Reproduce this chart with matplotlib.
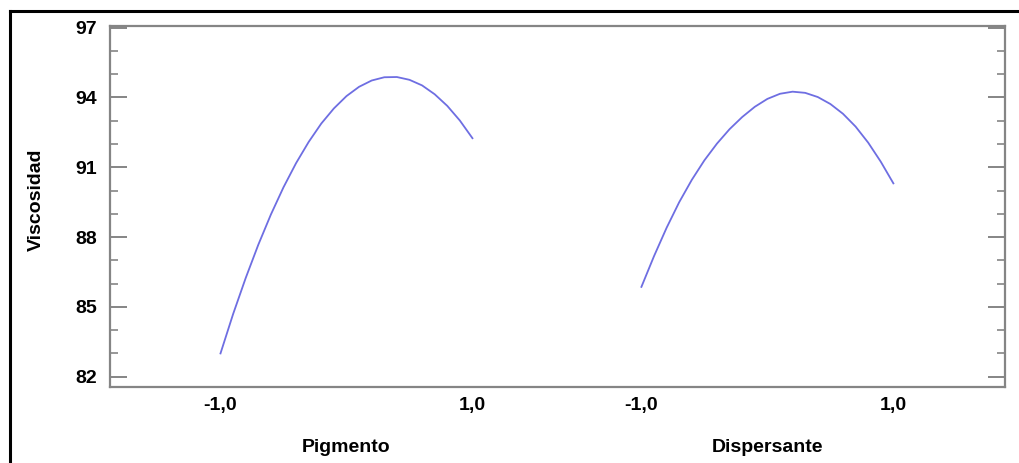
import matplotlib
matplotlib.use("Agg")
import matplotlib.pyplot as plt
from matplotlib.ticker import MultipleLocator, FixedLocator
from matplotlib.lines import Line2D

# ---- data ----
levels = [-1.0, -0.9, -0.8, -0.7, -0.6, -0.5, -0.4, -0.3, -0.2, -0.1, 0.0,
          0.1, 0.2, 0.3, 0.4, 0.5, 0.6, 0.7, 0.8, 0.9, 1.0]
pigmento = [83.00, 84.69, 86.24, 87.67, 88.97, 90.14, 91.18, 92.09, 92.88, 93.53, 94.06,
            94.46, 94.73, 94.87, 94.88, 94.76, 94.52, 94.14, 93.64, 93.01, 92.25]
dispersante = [85.86, 87.18, 88.40, 89.50, 90.46, 91.30, 92.02, 92.64, 93.16, 93.60, 93.94,
               94.16, 94.25, 94.20, 94.02, 93.72, 93.30, 92.75, 92.06, 91.24, 90.31]
factors = ["Pigmento", "Dispersante"]
tick_labels = ["-1,0", "1,0"]
y_ticks = [82, 85, 88, 91, 94, 97]
y_label = "Viscosidad"

plt.rcParams['font.family'] = ['Liberation Sans', 'DejaVu Sans']

W, H = 1019, 463
fig = plt.figure(figsize=(W / 100, H / 100), dpi=100)

# outer black frame (left & top visible)
fig.add_artist(Line2D([9.5 / W, 9.5 / W], [0, 1 - 11 / H], transform=fig.transFigure,
                      color='black', lw=2.2, solid_capstyle='projecting'))
fig.add_artist(Line2D([9.5 / W, 1], [1 - 11 / H, 1 - 11 / H], transform=fig.transFigure,
                      color='black', lw=2.2, solid_capstyle='projecting'))

ax_l, ax_r, ax_t, ax_b = 110, 1005, 26, 387
ax = fig.add_axes([ax_l / W, 1 - ax_b / H, (ax_r - ax_l) / W, (ax_b - ax_t) / H])

offset = 3.341  # horizontal offset of the second factor panel
line_color = '#6e6ee2'
ax.plot(levels, pigmento, color=line_color, lw=1.3)
ax.plot([x + offset for x in levels], dispersante, color=line_color, lw=1.3)

ax.set_xlim(-1.877, 5.227)
ax.set_ylim(81.557, 97.073)

ax.yaxis.set_major_locator(FixedLocator(y_ticks))
ax.yaxis.set_minor_locator(MultipleLocator(1))
ax.set_yticklabels([str(v) for v in y_ticks])

xt = [-1, 1, -1 + offset, 1 + offset]
ax.set_xticks(xt)
ax.set_xticklabels(tick_labels * 2)

for s in ax.spines.values():
    s.set_color('#858585')
    s.set_linewidth(1.6)

FS = 14
ax.tick_params(axis='y', which='major', direction='in', length=12.2, width=1.4,
               color='#858585', left=True, right=True, pad=9, labelsize=FS)
ax.tick_params(axis='y', which='minor', direction='in', length=5.8, width=1.2,
               color='#858585', left=True, right=True)
ax.tick_params(axis='x', which='both', length=0, pad=7, labelsize=FS)
for lab in ax.get_xticklabels() + ax.get_yticklabels():
    lab.set_fontweight('bold')

ax.set_ylabel(y_label, fontsize=FS, fontweight='bold')
ax.yaxis.set_label_coords(-65 / (ax_r - ax_l), 0.52)

ax.text(0, -60 / (ax_b - ax_t), factors[0], transform=ax.get_xaxis_transform(),
        ha='center', va='center', fontsize=FS, fontweight='bold')
ax.text(offset, -60 / (ax_b - ax_t), factors[1], transform=ax.get_xaxis_transform(),
        ha='center', va='center', fontsize=FS, fontweight='bold')

fig.savefig("out.png", dpi=100)
